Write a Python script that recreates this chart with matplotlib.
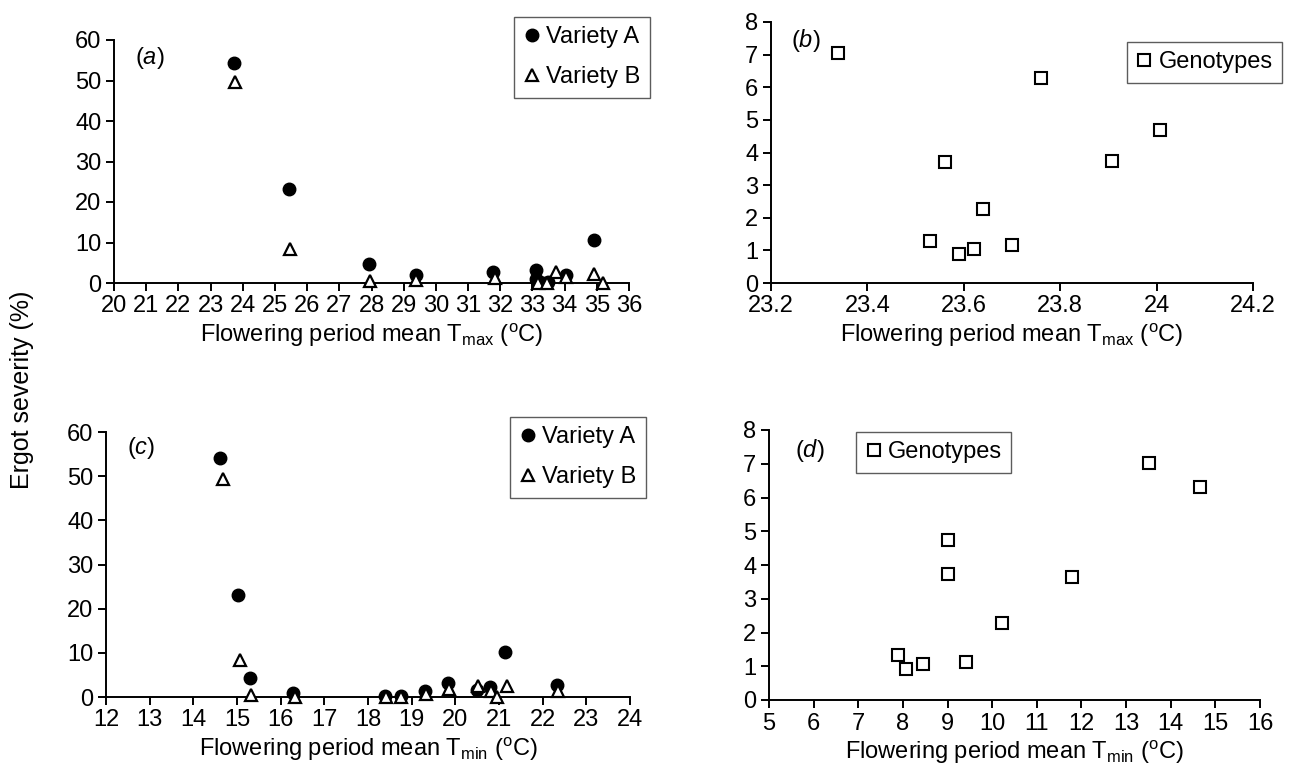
import matplotlib
matplotlib.use("Agg")
import matplotlib.pyplot as plt
from matplotlib.lines import Line2D

FAM = ['Liberation Sans', 'DejaVu Sans']
plt.rcParams['font.family'] = FAM
plt.rcParams['mathtext.fontset'] = 'custom'
plt.rcParams['mathtext.rm'] = 'Liberation Sans'
plt.rcParams['mathtext.it'] = 'Liberation Sans:italic'

# ---------------- data ----------------
# Panel (a): severity vs Tmax
a_varA_x = [23.72, 25.43, 27.91, 29.37, 31.78, 33.10, 33.12, 33.22, 33.48, 34.04, 34.90]
a_varA_y = [54.2, 23.2, 4.6, 1.9, 2.8, 3.3, 0.9, 0.3, 0.2, 1.9, 10.5]
a_varB_x = [23.77, 25.47, 27.95, 29.38, 31.84, 33.18, 33.46, 33.73, 34.04, 34.92, 35.20]
a_varB_y = [49.6, 8.5, 0.4, 0.8, 1.2, 0.0, 0.0, 2.8, 1.6, 2.3, 0.0]

# Panel (c): severity vs Tmin
c_varA_x = [14.60, 15.02, 15.29, 16.29, 18.40, 18.75, 19.30, 19.84, 20.50, 20.79, 21.14, 22.32]
c_varA_y = [54.1, 23.0, 4.4, 1.0, 0.3, 0.3, 1.4, 3.1, 1.6, 2.2, 10.1, 2.7]
c_varB_x = [14.67, 15.06, 15.32, 16.32, 18.41, 18.75, 19.32, 19.85, 20.52, 20.82, 20.96, 21.18, 22.34]
c_varB_y = [49.4, 8.4, 0.4, 0.0, 0.0, 0.0, 0.6, 1.7, 2.4, 1.3, 0.0, 2.4, 1.3]

# Panel (b): genotypes vs Tmax
b_x = [23.338, 23.760, 23.562, 23.908, 24.008, 23.640, 23.529, 23.590, 23.621, 23.701]
b_y = [7.06, 6.29, 3.70, 3.74, 4.70, 2.28, 1.30, 0.89, 1.05, 1.15]

# Panel (d): genotypes vs Tmin
d_x = [7.90, 8.08, 8.46, 9.02, 9.02, 9.41, 10.21, 11.79, 13.51, 14.66]
d_y = [1.32, 0.93, 1.08, 4.75, 3.72, 1.14, 2.27, 3.65, 7.03, 6.30]

a_xticks = list(range(20, 37))
c_xticks = list(range(12, 25))
b_xticks = [23.2, 23.4, 23.6, 23.8, 24.0, 24.2]
b_xticklabels = ['23.2', '23.4', '23.6', '23.8', '24', '24.2']
d_xticks = list(range(5, 17))
sev_yticks = [0, 10, 20, 30, 40, 50, 60]
gen_yticks = [0, 1, 2, 3, 4, 5, 6, 7, 8]

xlab_max = r'Flowering period mean T$_{\rm max}$ ($^{\rm o}$C)'
xlab_min = r'Flowering period mean T$_{\rm min}$ ($^{\rm o}$C)'

W, H = 1290, 778
fig = plt.figure(figsize=(W / 100, H / 100), dpi=100)

def px_axes(x0, x1, ytop, ybot):
    return fig.add_axes([x0 / W, 1 - ybot / H, (x1 - x0) / W, (ybot - ytop) / H])

TS = 17
LW = 1.4

def style(ax, xlim, ylim, xticks, yticks, xticklabels=None):
    ax.set_xlim(*xlim)
    ax.set_ylim(*ylim)
    for s in ('top', 'right'):
        ax.spines[s].set_visible(False)
    for s in ('left', 'bottom'):
        ax.spines[s].set_linewidth(LW)
    ax.set_xticks(xticks)
    if xticklabels is not None:
        ax.set_xticklabels(xticklabels)
    ax.set_yticks(yticks)
    ax.tick_params(direction='out', length=6, width=LW, labelsize=TS, pad=3)
    ax.tick_params(axis='x', pad=3)
    ax.patch.set_visible(False)

circ = dict(marker='o', linestyle='none', markersize=9, markerfacecolor='black',
            markeredgecolor='black', clip_on=False, zorder=3)
tri = dict(marker='^', linestyle='none', markersize=9, markerfacecolor='white',
           markeredgecolor='black', markeredgewidth=1.6, clip_on=False, zorder=4)
sq = dict(marker='s', linestyle='none', markersize=9, markerfacecolor='white',
          markeredgecolor='black', markeredgewidth=1.5, clip_on=False, zorder=3)

def legend(ax, handles, labels, anchor, loc):
    lg = ax.legend(handles, labels, loc=loc, bbox_to_anchor=anchor,
                   bbox_transform=fig.transFigure, borderaxespad=0,
                   frameon=True, fancybox=False, fontsize=TS, handlelength=0.7,
                   handletextpad=0.25, borderpad=0.4, labelspacing=0.75)
    lg.get_frame().set_edgecolor('#333333')
    lg.get_frame().set_linewidth(1.0)
    return lg

# (a)
ax = px_axes(114, 629, 40, 283)
ax.plot(a_varA_x, a_varA_y, **circ)
ax.plot(a_varB_x, a_varB_y, **tri)
style(ax, (20, 36), (0, 60), a_xticks, sev_yticks)
ax.set_xlabel(xlab_max, fontsize=TS, labelpad=3)
ax.text(150 / W, 1 - 58 / H, r'($\it{a}$)', transform=fig.transFigure,
        fontsize=TS, ha='center', va='center')
legend(ax, [Line2D([], [], **circ), Line2D([], [], **tri)], ['Variety A', 'Variety B'],
       (650 / W, 1 - 17 / H), 'upper right')

# (b)
ax = px_axes(771, 1253, 22, 283)
ax.plot(b_x, b_y, **sq)
style(ax, (23.2, 24.2), (0, 8), b_xticks, gen_yticks, b_xticklabels)
ax.set_xlabel(xlab_max, fontsize=TS, labelpad=3)
ax.text(806 / W, 1 - 40 / H, r'($\it{b}$)', transform=fig.transFigure,
        fontsize=TS, ha='center', va='center')
legend(ax, [Line2D([], [], **sq)], ['Genotypes'], (1282 / W, 1 - 42 / H), 'upper right')

# (c)
ax = px_axes(106, 630, 432, 697)
ax.plot(c_varA_x, c_varA_y, **circ)
ax.plot(c_varB_x, c_varB_y, **tri)
style(ax, (12, 24), (0, 60), c_xticks, sev_yticks)
ax.set_xlabel(xlab_min, fontsize=TS, labelpad=3)
ax.text(141 / W, 1 - 448 / H, r'($\it{c}$)', transform=fig.transFigure,
        fontsize=TS, ha='center', va='center')
legend(ax, [Line2D([], [], **circ), Line2D([], [], **tri)], ['Variety A', 'Variety B'],
       (646 / W, 1 - 417 / H), 'upper right')

# (d)
ax = px_axes(769, 1260, 430, 700)
ax.plot(d_x, d_y, **sq)
style(ax, (5, 16), (0, 8), d_xticks, gen_yticks)
ax.set_xlabel(xlab_min, fontsize=TS, labelpad=3)
ax.text(810 / W, 1 - 451 / H, r'($\it{d}$)', transform=fig.transFigure,
        fontsize=TS, ha='center', va='center')
legend(ax, [Line2D([], [], **sq)], ['Genotypes'], (856 / W, 1 - 432 / H), 'upper left')

fig.text(22 / W, 1 - 390 / H, 'Ergot severity (%)', rotation=90, fontsize=TS + 1,
         ha='center', va='center')

fig.savefig('out.png', dpi=100)
